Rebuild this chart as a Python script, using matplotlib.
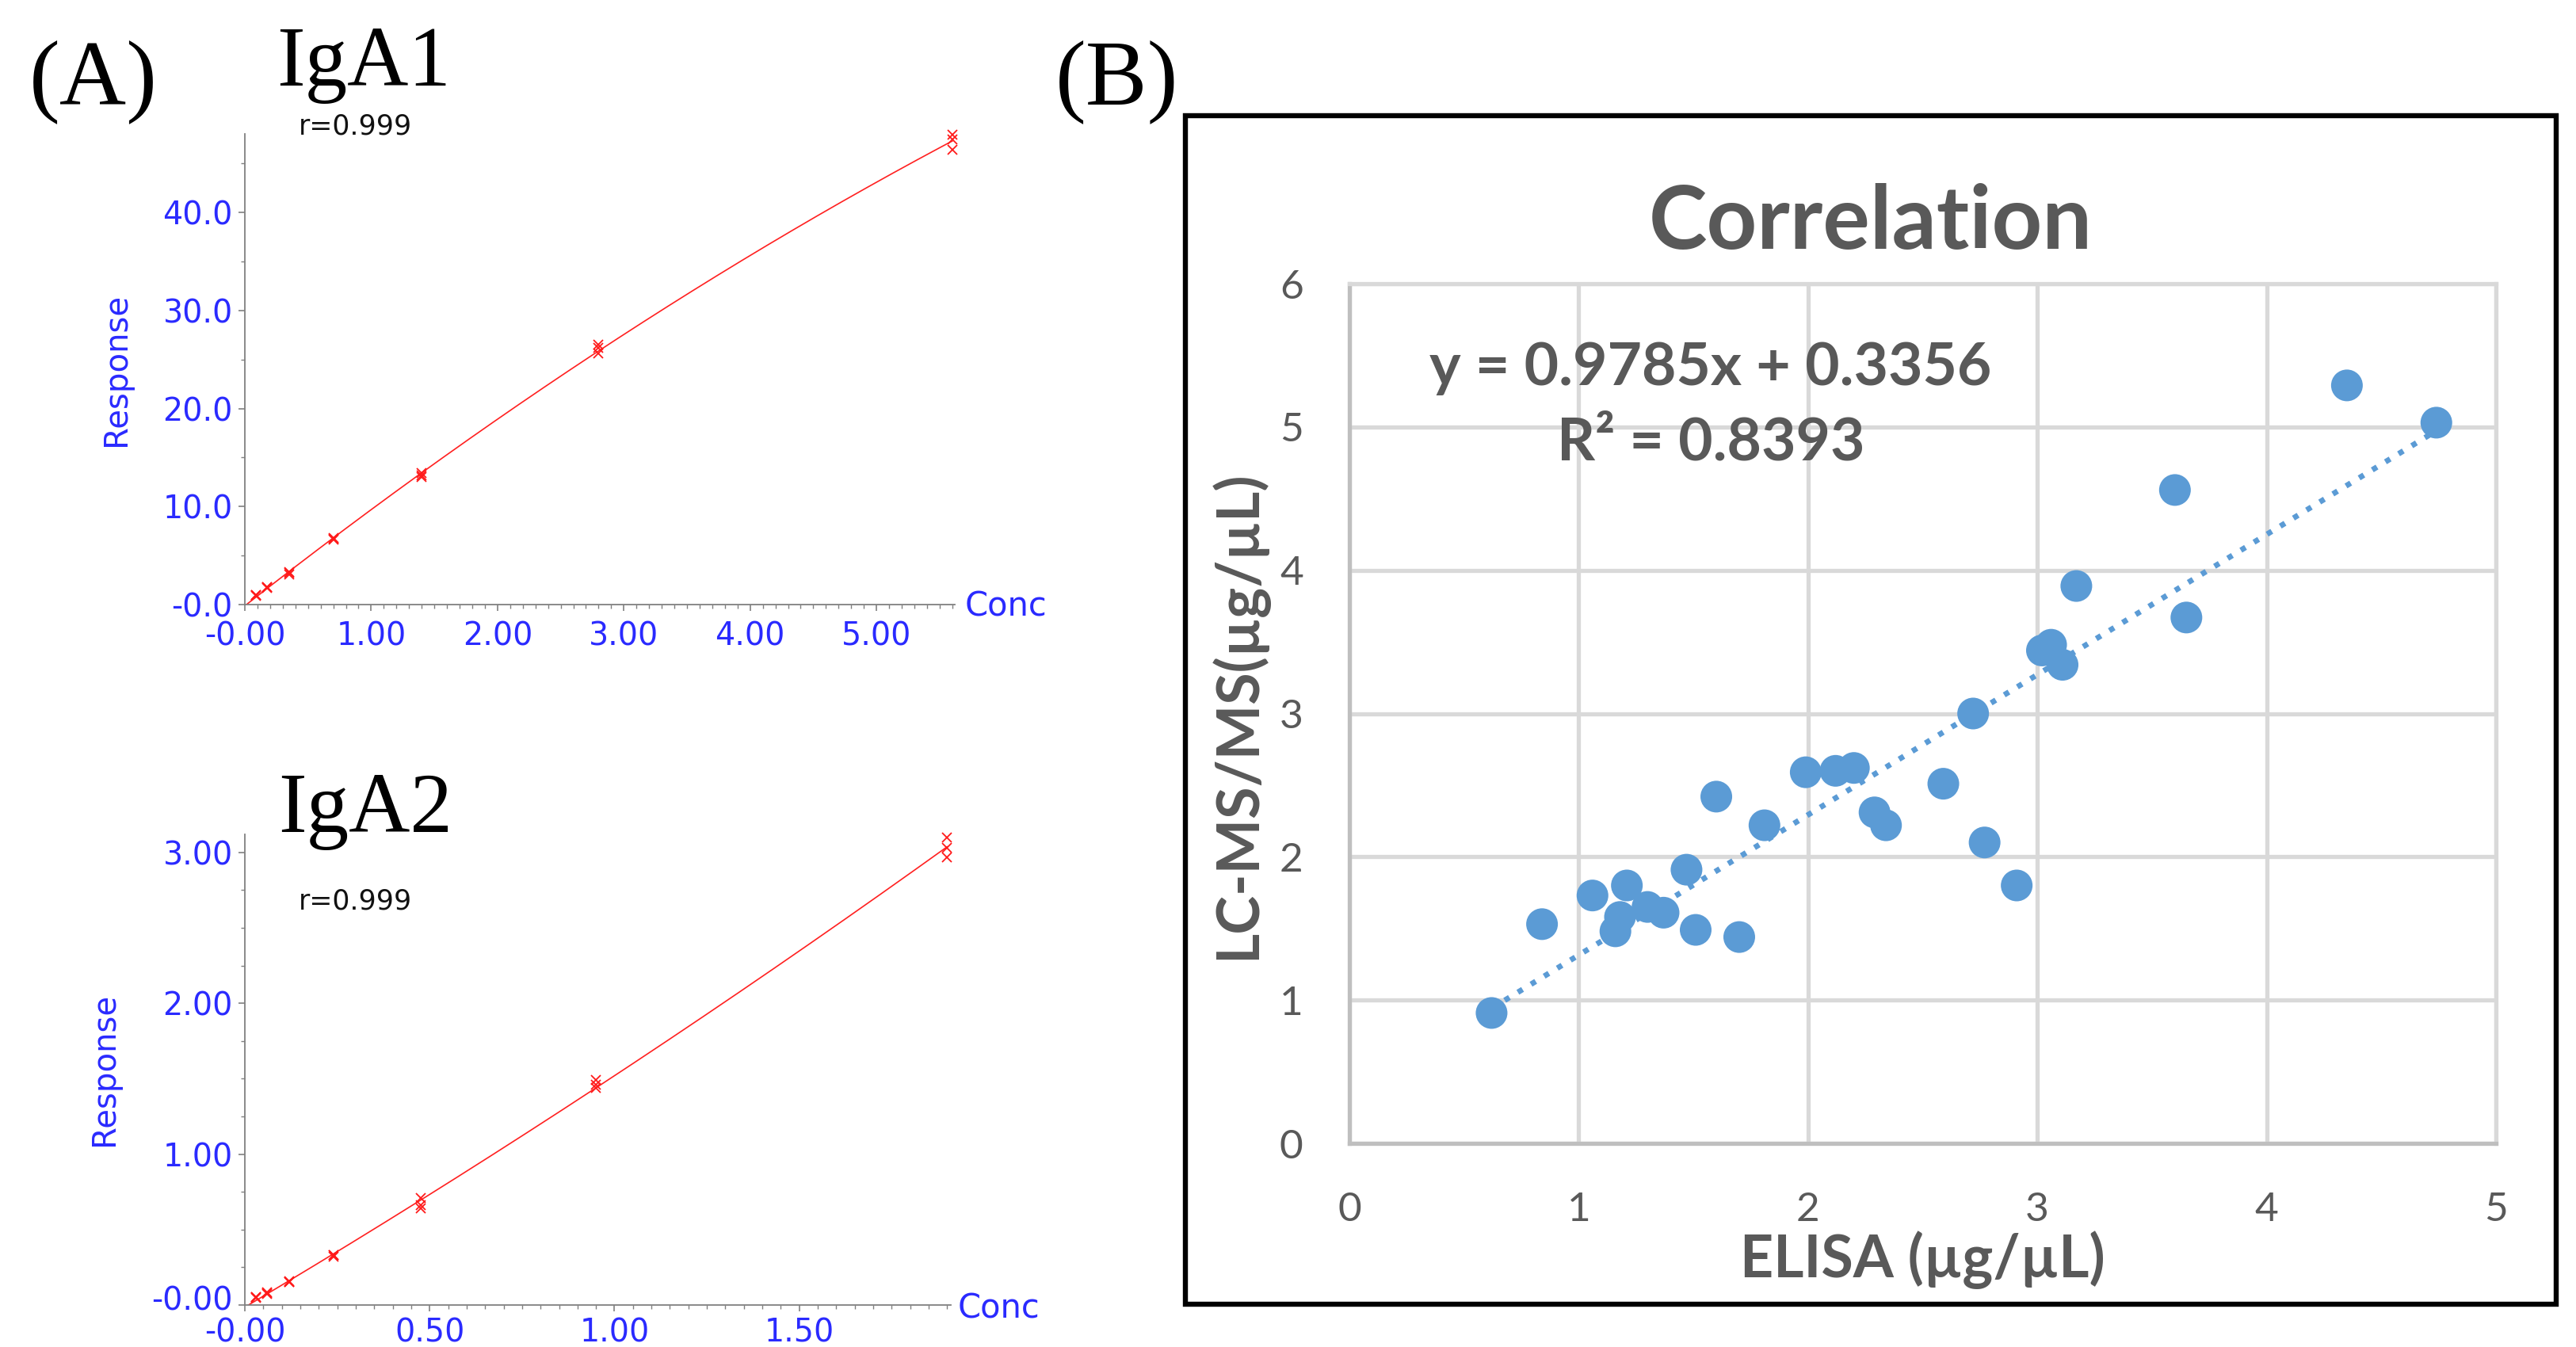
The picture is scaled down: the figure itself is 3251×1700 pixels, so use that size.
import matplotlib
matplotlib.use("Agg")
import matplotlib.pyplot as plt
import matplotlib.transforms as mtransforms
import numpy as np
from matplotlib.patches import Rectangle

# ---------------- data ----------------
# Panel A: IgA1 calibration (replicates)
iga1_conc = [0.0875, 0.175, 0.35, 0.70, 1.40, 2.80, 5.60]
iga1_rep1 = [0.95, 1.70, 3.30, 6.80, 13.2, 25.6, 47.9]
iga1_rep2 = [1.00, 1.80, 3.20, 6.60, 13.0, 26.2, 47.4]
iga1_rep3 = [0.90, 1.75, 3.10, 6.70, 13.4, 26.5, 46.4]
iga1_xticks = [0, 1, 2, 3, 4, 5]
iga1_xlabels = ["-0.00", "1.00", "2.00", "3.00", "4.00", "5.00"]
iga1_yticks = [0, 10, 20, 30, 40]
iga1_ylabels = ["-0.0", "10.0", "20.0", "30.0", "40.0"]

# Panel A: IgA2 calibration (replicates)
iga2_conc = [0.03, 0.06, 0.12, 0.24, 0.475, 0.95, 1.90]
iga2_rep1 = [0.050, 0.080, 0.150, 0.330, 0.660, 1.440, 3.03]
iga2_rep2 = [0.045, 0.075, 0.160, 0.320, 0.640, 1.490, 3.10]
iga2_rep3 = [0.050, 0.085, 0.150, 0.330, 0.710, 1.460, 2.97]
iga2_xticks = [0, 0.5, 1.0, 1.5]
iga2_xlabels = ["-0.00", "0.50", "1.00", "1.50"]
iga2_yticks = [0, 1, 2, 3]
iga2_ylabels = ["-0.00", "1.00", "2.00", "3.00"]

r_text = "r=0.999"

# Panel B: correlation ELISA vs LC-MS/MS
elisa = [0.62, 0.84, 1.06, 1.16, 1.18, 1.21, 1.30, 1.37, 1.47, 1.51,
         1.60, 1.70, 1.81, 1.99, 2.12, 2.20, 2.29, 2.34, 2.59, 2.72,
         2.77, 2.91, 3.02, 3.06, 3.11, 3.17, 3.60, 3.65, 4.35, 4.74]
lcms = [0.91, 1.53, 1.73, 1.48, 1.58, 1.80, 1.65, 1.61, 1.91, 1.49,
        2.42, 1.44, 2.22, 2.59, 2.60, 2.62, 2.31, 2.22, 2.51, 3.00,
        2.10, 1.80, 3.44, 3.48, 3.34, 3.89, 4.56, 3.67, 5.29, 5.03]
slope = 0.9785
intercept = 0.3356
r_squared = 0.8393
b_xticks = [0, 1, 2, 3, 4, 5]
b_yticks = [0, 1, 2, 3, 4, 5, 6]

# ---------------- figure ----------------
W, H = 3251, 1700
fig = plt.figure(figsize=(W / 100, H / 100), dpi=100)


def ax_px(l, t, r, b):
    return fig.add_axes([l / W, 1 - b / H, (r - l) / W, (b - t) / H])


def ftext(x, y, s, **kw):
    return fig.text(x / W, 1 - y / H, s, **kw)


BLUE = "#2a2aff"
AXG = "#808080"
SANS_A = "DejaVu Sans"
SERIF = "Liberation Serif"


def style_calib(ax, xlim, ylim, xt, xl, yt, yl, xminor, yminor, xpad, zero_shift):
    ax.set_xlim(*xlim)
    ax.set_ylim(*ylim)
    for s in ("top", "right"):
        ax.spines[s].set_visible(False)
    for s in ("left", "bottom"):
        ax.spines[s].set_color(AXG)
        ax.spines[s].set_linewidth(1.3)
    ax.set_xticks(xt)
    ax.set_xticklabels(xl)
    ax.set_yticks(yt)
    ax.set_yticklabels(yl)
    ax.set_xticks(np.arange(0, xlim[1], xminor), minor=True)
    ax.set_yticks(np.arange(0, ylim[1], yminor), minor=True)
    ax.tick_params(axis="both", which="major", direction="out", length=6,
                   width=1.2, color=AXG, labelcolor=BLUE, labelsize=28.5, pad=5)
    ax.tick_params(axis="x", which="major", pad=xpad)
    ax.tick_params(axis="both", which="minor", direction="out", length=3.5,
                   width=1.0, color=AXG)
    for lab in ax.get_xticklabels() + ax.get_yticklabels():
        lab.set_fontfamily(SANS_A)
    if zero_shift:
        lab0 = ax.get_yticklabels()[0]
        off = mtransforms.ScaledTranslation(0, zero_shift / 100, fig.dpi_scale_trans)
        lab0.set_transform(lab0.get_transform() + off)
    ax.patch.set_alpha(0)


def draw_calib(ax, conc, reps):
    allx = np.concatenate([conc for _ in reps])
    ally = np.concatenate(reps)
    coef = np.polyfit(allx, ally, 2)
    xs = np.linspace(0, max(conc), 200)
    ax.plot(xs, np.polyval(coef, xs), color="#ff2020", lw=1.2, zorder=2)
    for rep in reps:
        ax.plot(conc, rep, linestyle="none", marker="x", color="#ff1a1a",
                markersize=9, markeredgewidth=1.3, zorder=3, clip_on=False)


# IgA1
ax1 = ax_px(309, 169, 1205, 763)
draw_calib(ax1, np.array(iga1_conc), [np.array(iga1_rep1), np.array(iga1_rep2), np.array(iga1_rep3)])
style_calib(ax1, (0, 5.62), (0, 48.0), iga1_xticks, iga1_xlabels, iga1_yticks, iga1_ylabels,
            0.1, 5, 9, 0)

# IgA2
ax2 = ax_px(309, 1053, 1200, 1647)
draw_calib(ax2, np.array(iga2_conc), [np.array(iga2_rep1), np.array(iga2_rep2), np.array(iga2_rep3)])
style_calib(ax2, (0, 1.91), (0, 3.12), iga2_xticks, iga2_xlabels, iga2_yticks, iga2_ylabels,
            0.05, 0.25, 5.5, 9)

# Panel A texts
ftext(118, 131, "(A)", fontsize=84, family=SERIF, ha="center", va="baseline")
ftext(459, 108, "IgA1", fontsize=77, family=SERIF, ha="center", va="baseline")
ftext(461, 1050, "IgA2", fontsize=77, family=SERIF, ha="center", va="baseline")
ftext(1410, 131, "(B)", fontsize=84, family=SERIF, ha="center", va="baseline")
ftext(449, 160, r_text, fontsize=25, family=SANS_A, ha="center", va="center", color="#111111")
ftext(449, 1137, r_text, fontsize=25, family=SANS_A, ha="center", va="center", color="#111111")
ftext(147, 466, "Response", fontsize=29, family=SANS_A, ha="center", va="center",
      rotation=90, color=BLUE)
ftext(132, 1349, "Response", fontsize=29, family=SANS_A, ha="center", va="center",
      rotation=90, color=BLUE)
ftext(1218, 766, "Conc", fontsize=30, family=SANS_A, ha="left", va="center", color=BLUE)
ftext(1209, 1652, "Conc", fontsize=30, family=SANS_A, ha="left", va="center", color=BLUE)

# ---------------- Panel B ----------------
GRAY_T = "#595959"
GRID = "#d9d9d9"
FONT_B = "Lato"

fig.add_artist(Rectangle((1496 / W, 1 - 1646 / H), (3226 - 1496) / W, (1646 - 146) / H,
                         transform=fig.transFigure, fill=False, edgecolor="black",
                         linewidth=4.6, zorder=10))

axb = ax_px(1703, 358, 3150, 1443)
axb.set_xlim(0, 5)
axb.set_ylim(0, 6)
axb.set_xticks(b_xticks)
axb.set_yticks(b_yticks)
axb.grid(True, color=GRID, linewidth=3.8, zorder=0)
axb.set_axisbelow(True)
for s in ("top", "right"):
    axb.spines[s].set_color(GRID)
    axb.spines[s].set_linewidth(3.8)
for s in ("left", "bottom"):
    axb.spines[s].set_color("#bfbfbf")
    axb.spines[s].set_linewidth(3.8)
axb.tick_params(axis="both", length=0, labelcolor=GRAY_T, labelsize=37)
axb.tick_params(axis="x", pad=44)
axb.tick_params(axis="y", pad=42)
for lab in axb.get_xticklabels() + axb.get_yticklabels():
    lab.set_fontfamily(FONT_B)

xt = np.array([min(elisa), max(elisa)])
axb.plot(xt, slope * xt + intercept, color="#5b9bd5", lw=5,
         linestyle=(0, (1, 1.8)), dash_capstyle="butt", zorder=2)
axb.scatter(elisa, lcms, s=830, color="#5b9bd5", edgecolors="none", zorder=3)

axb.text(1.576, 5.41, f"y = {slope}x + {intercept}", fontsize=54, family=FONT_B,
         fontweight="bold", color=GRAY_T, ha="center", va="center", zorder=4)
axb.text(1.576, 4.89, f"R² = {r_squared}", fontsize=54, family=FONT_B,
         fontweight="bold", color=GRAY_T, ha="center", va="center", zorder=4)

ftext(2361, 282, "Correlation", fontsize=80, family=FONT_B, fontweight="bold",
      color=GRAY_T, ha="center", va="center")
ftext(2426, 1590, "ELISA (µg/µL)", fontsize=53, family=FONT_B, fontweight="bold",
      color=GRAY_T, ha="center", va="center")
ftext(1562, 902, "LC-MS/MS(µg/µL)", fontsize=53, family=FONT_B, fontweight="bold",
      color=GRAY_T, ha="center", va="center", rotation=90)

fig.savefig("out.png", dpi=100, facecolor="white")
